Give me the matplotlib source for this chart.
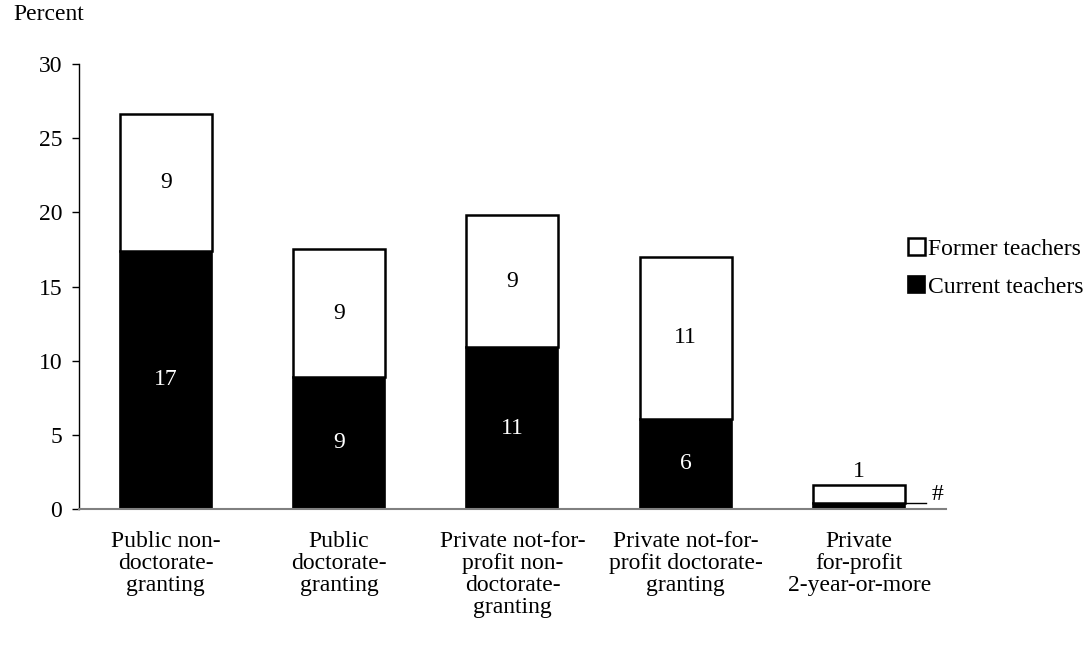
import matplotlib.pyplot as plt
import numpy as np

plt.rcParams["font.family"] = ["Liberation Serif", "DejaVu Serif"]

categories = [
    "Public non-\ndoctorate-\ngranting",
    "Public\ndoctorate-\ngranting",
    "Private not-for-\nprofit non-\ndoctorate-\ngranting",
    "Private not-for-\nprofit doctorate-\ngranting",
    "Private\nfor-profit\n2-year-or-more",
]
current = [17.4, 8.9, 10.9, 6.1, 0.4]
former = [9.2, 8.6, 8.9, 10.9, 1.2]
yticks = [0, 5, 10, 15, 20, 25, 30]

x = np.arange(len(categories))
width = 0.53

fig = plt.figure(figsize=(10.91, 6.48), dpi=100)
ax = fig.add_axes([0.0724, 0.2145, 0.7946, 0.6867])

b_cur = ax.bar(x, current, width, color="black", edgecolor="black", linewidth=1.2,
               label="Current teachers")
b_for = ax.bar(x, former, width, bottom=current, color="white", edgecolor="black",
               linewidth=1.8, label="Former teachers")

fs = 17
# labels inside segments
for i in range(len(x)):
    if current[i] >= 1:
        ax.text(x[i], current[i] / 2, f"{current[i]:.0f}", ha="center", va="center",
                color="white", fontsize=fs)
    if former[i] >= 3:
        ax.text(x[i], current[i] + former[i] / 2, f"{former[i]:.0f}", ha="center",
                va="center", color="black", fontsize=fs)
    else:
        ax.text(x[i], current[i] + former[i] + 0.25, f"{former[i]:.0f}", ha="center",
                va="bottom", color="black", fontsize=fs)

# "#" marker for rounds-to-zero value on last bar
last = len(x) - 1
ax.plot([x[last] + width / 2, x[last] + width / 2 + 0.12], [current[last], current[last]],
        color="black", lw=1)
ax.text(x[last] + width / 2 + 0.155, current[last] - 0.1, "#", ha="left", va="bottom",
        fontsize=fs)

ax.set_xlim(-0.5, 4.5)
ax.set_ylim(0, 30)
ax.set_yticks(yticks)
ax.set_xticks(x)
ax.set_xticklabels(categories, fontsize=fs, linespacing=1.06)
ax.tick_params(axis="x", length=0, pad=16)
ax.tick_params(axis="y", direction="out", length=5, width=1, labelsize=fs, pad=7)

for s in ["top", "right"]:
    ax.spines[s].set_visible(False)
ax.spines["left"].set_linewidth(1)
ax.spines["bottom"].set_color("#808080")
ax.spines["bottom"].set_linewidth(1.5)

fig.text(13 / 1091, 1 - 15 / 648, "Percent", ha="left", va="center", fontsize=fs)

ax.legend(handles=[b_for, b_cur], loc="upper left", bbox_to_anchor=(0.956, 0.609),
          frameon=False, fontsize=fs, handlelength=0.72, handleheight=0.72,
          handletextpad=0.12, labelspacing=0.7, borderaxespad=0, borderpad=0)

fig.savefig("out.png", dpi=100)
